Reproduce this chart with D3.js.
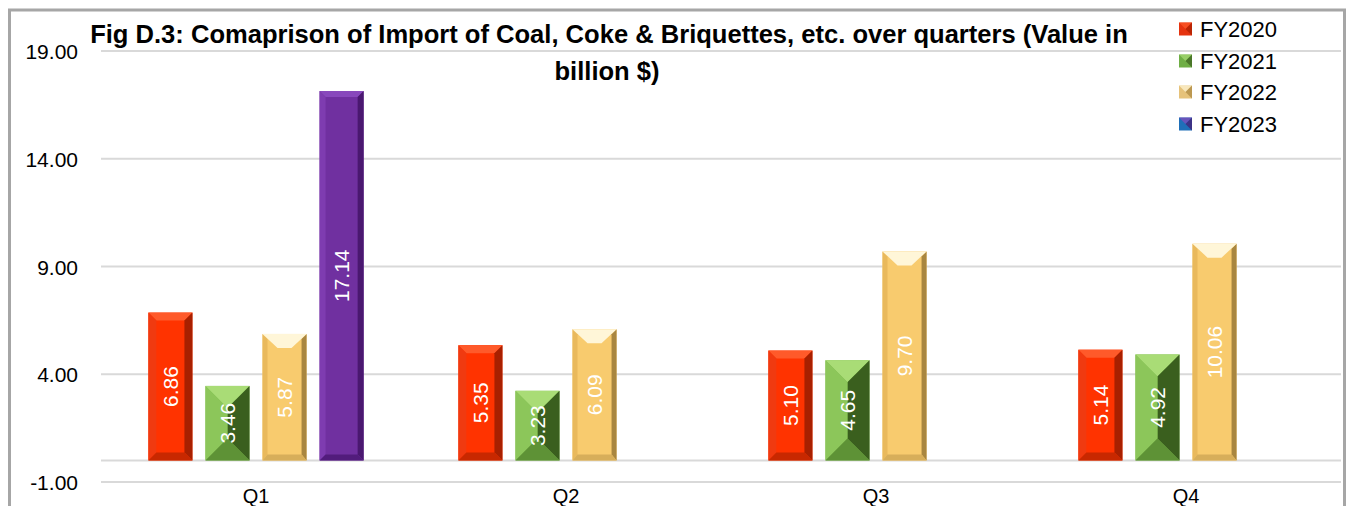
<!DOCTYPE html>
<html><head><meta charset="utf-8">
<script src="https://cdn.jsdelivr.net/npm/d3@7"></script>
<style>body{margin:0;background:#fff;} svg{display:block;}</style>
</head><body>
<svg id="chart" width="1348" height="506"></svg>
<script>
const quarters = ["Q1", "Q2", "Q3", "Q4"];
const seriesNames = ["FY2020", "FY2021", "FY2022", "FY2023"];
const fy2020 = [6.86, 5.35, 5.10, 5.14];
const fy2021 = [3.46, 3.23, 4.65, 4.92];
const fy2022 = [5.87, 6.09, 9.70, 10.06];
const fy2023 = [17.14, null, null, null];
const yTicks = [-1, 4, 9, 14, 19];
const titleLines = ["Fig D.3: Comaprison of Import of Coal, Coke & Briquettes, etc. over quarters (Value in", "billion $)"];

const seriesValues = [fy2020, fy2021, fy2022, fy2023];
const styles = [
  {face:"#FF3300", top:"#FF5A2A", left:"#F03A10", right:"#A82000", bottom:"#C82800", legend:"#E5330F", d:8},
  {face:"#7CBB4C", top:"#A9DC76", left:"#8CC65A", right:"#3A5F1E", bottom:"#5E9236", legend:"#6FAE45", d:"pyramid"},
  {face:"#F8CB6E", top:"#FFF6D8", left:"#E9B95C", right:"#A98640", bottom:"#D7AE5A", legend:"#E6C27A", d:"yellow"},
  {face:"#7030A0", top:"#8848BC", left:"#7E3CB0", right:"#4A1870", bottom:"#521C7C", legend:"#1F6FB8", d:6}
];

const svg = d3.select("#chart");
const font = "'Liberation Sans', Arial, sans-serif";
const fmt = v => d3.format(".2f")(v).replace("\u2212", "-");

// frame
svg.append("rect").attr("x",9.5).attr("y",10).attr("width",1335).attr("height",520)
  .attr("fill","none").attr("stroke","#A6A6A6").attr("stroke-width",3);

const plotLeft = 101, plotRight = 1341;
const y = d3.scaleLinear().domain([-1, 19]).range([482, 51]);
const x0 = d3.scaleBand().domain(quarters).range([plotLeft, plotRight]).padding(0);
const x1 = d3.scaleBand().domain(seriesNames).range([0, x0.bandwidth()])
  .paddingInner(13/57).paddingOuter(0.83);

// gridlines
const grid = svg.append("g");
grid.selectAll("line").data(yTicks.concat([0])).join("line")
  .attr("x1", plotLeft).attr("x2", plotRight)
  .attr("y1", d => y(d)).attr("y2", d => y(d))
  .attr("stroke", "#D9D9D9").attr("stroke-width", 2);

// y axis labels
const yAxis = d3.axisLeft(y).tickValues(yTicks).tickFormat(fmt).tickSize(0).tickPadding(0);
const yg = svg.append("g").attr("transform", "translate(78,0)").call(yAxis);
yg.select(".domain").remove();
yg.selectAll("text").attr("font-family", font).attr("font-size", 21).attr("fill", "#000").attr("dy","0.36em");

// x axis labels
const xAxis = d3.axisBottom(x0).tickSize(0).tickPadding(0);
const xg = svg.append("g").attr("transform", "translate(0,484)").call(xAxis);
xg.select(".domain").remove();
xg.selectAll("text").attr("font-family", font).attr("font-size", 20).attr("fill", "#000").attr("dy","0.95em");

// bars
const barData = [];
seriesValues.forEach((vals, si) => vals.forEach((v, qi) => {
  if (v != null) barData.push({s: seriesNames[si], si, q: quarters[qi], v});
}));

function pts(a){ return a.map(p => p.join(",")).join(" "); }

const bars = svg.append("g").selectAll("g").data(barData).join("g");
bars.each(function(d){
  const g = d3.select(this);
  const st = styles[d.si];
  const bx = x0(d.q) + x1(d.s), w = x1.bandwidth();
  const by = y(d.v), bb = y(0), h = bb - by;
  g.append("rect").attr("x",bx).attr("y",by).attr("width",w).attr("height",h).attr("fill",st.face);
  if (st.d === "pyramid") {
    const dd = Math.min(w/2, h/2);
    g.append("polygon").attr("points", pts([[bx,by],[bx+w,by],[bx+w-dd,by+dd],[bx+dd,by+dd]])).attr("fill", st.top);
    g.append("polygon").attr("points", pts([[bx+w,by],[bx+w-dd,by+dd],[bx+w-dd,bb-dd],[bx+w,bb]])).attr("fill", st.right);
    g.append("polygon").attr("points", pts([[bx,by],[bx+dd,by+dd],[bx+dd,bb-dd],[bx,bb]])).attr("fill", st.left);
    g.append("polygon").attr("points", pts([[bx,bb],[bx+w,bb],[bx+w-dd,bb-dd],[bx+dd,bb-dd]])).attr("fill", st.bottom);
  } else if (st.d === "yellow") {
    const sw = 5, td = 14, bd = 6;
    g.append("polygon").attr("points", pts([[bx,by],[bx+sw,by+sw],[bx+sw,bb-bd],[bx,bb]])).attr("fill", st.left);
    g.append("polygon").attr("points", pts([[bx+w,by],[bx+w-sw,by+sw],[bx+w-sw,bb-bd],[bx+w,bb]])).attr("fill", st.right);
    g.append("polygon").attr("points", pts([[bx,bb],[bx+w,bb],[bx+w-sw,bb-bd],[bx+sw,bb-bd]])).attr("fill", st.bottom);
    g.append("polygon").attr("points", pts([[bx,by],[bx+w,by],[bx+w/2+7,by+td],[bx+w/2-7,by+td]])).attr("fill", st.top);
  } else {
    const dd = st.d;
    g.append("polygon").attr("points", pts([[bx,by],[bx+w,by],[bx+w-dd,by+dd],[bx+dd,by+dd]])).attr("fill", st.top);
    g.append("polygon").attr("points", pts([[bx+w,by],[bx+w-dd,by+dd],[bx+w-dd,bb-dd],[bx+w,bb]])).attr("fill", st.right);
    g.append("polygon").attr("points", pts([[bx,by],[bx+dd,by+dd],[bx+dd,bb-dd],[bx,bb]])).attr("fill", st.left);
    g.append("polygon").attr("points", pts([[bx,bb],[bx+w,bb],[bx+w-dd,bb-dd],[bx+dd,bb-dd]])).attr("fill", st.bottom);
  }
  g.append("text")
    .attr("transform", `translate(${bx + w/2},${(by+bb)/2}) rotate(-90)`)
    .attr("text-anchor","middle").attr("dy","0.36em")
    .attr("font-family", font).attr("font-size", 21).attr("fill","#fff")
    .text(fmt(d.v));
});

// title
const t1 = svg.append("text").attr("x", 609).attr("y", 43).attr("text-anchor","middle")
  .attr("font-family", font).attr("font-weight","bold").attr("font-size", 22).attr("fill","#000")
  .text(titleLines[0]);
const len = t1.node().getComputedTextLength();
const fs = 22 * 1038 / len;
t1.attr("font-size", fs);
svg.append("text").attr("x", 607).attr("y", 80).attr("text-anchor","middle")
  .attr("font-family", font).attr("font-weight","bold").attr("font-size", fs).attr("fill","#000")
  .text(titleLines[1]);

// legend
const lg = svg.append("g").selectAll("g").data(seriesNames).join("g")
  .attr("transform", (d,i) => `translate(1179,${[29,61,92,124][i]})`);
lg.append("rect").attr("x",0).attr("y",-6.5).attr("width",13).attr("height",13)
  .attr("fill",(d,i)=>styles[i].legend);
lg.append("polygon").attr("points","0,-6.5 13,-6.5 6.5,0").attr("fill",(d,i)=>styles[i].top).attr("opacity",0.7);
lg.append("polygon").attr("points","13,-6.5 13,6.5 6.5,0").attr("fill",(d,i)=>styles[i].right).attr("opacity",0.7);
lg.append("text").attr("x",21).attr("dy","0.36em")
  .attr("font-family", font).attr("font-size", 22).attr("fill","#000").text(d=>d);
</script>
</body></html>
